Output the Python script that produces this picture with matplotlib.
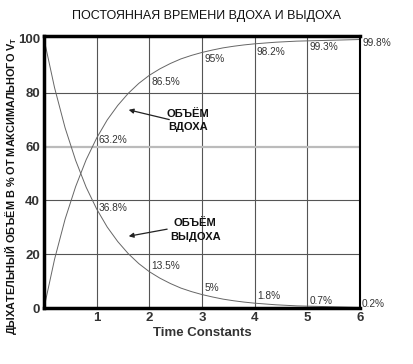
import matplotlib
matplotlib.use("Agg")
import matplotlib.pyplot as plt

plt.rcParams['font.family'] = ['Liberation Sans', 'DejaVu Sans']

# time constants and curve values
t = [0.0, 0.2, 0.4, 0.6, 0.8, 1.0, 1.2, 1.4, 1.6, 1.8, 2.0, 2.2, 2.4, 2.6, 2.8, 3.0,
     3.2, 3.4, 3.6, 3.8, 4.0, 4.2, 4.4, 4.6, 4.8, 5.0, 5.2, 5.4, 5.6, 5.8, 6.0]
exhale = [100.0, 81.9, 67.0, 54.9, 44.9, 36.8, 30.1, 24.7, 20.2, 16.5, 13.5, 11.1, 9.1, 7.4,
          6.1, 5.0, 4.1, 3.3, 2.7, 2.2, 1.8, 1.5, 1.2, 1.0, 0.8, 0.7, 0.6, 0.5, 0.4, 0.3, 0.2]
inhale = [0.0, 18.1, 33.0, 45.1, 55.1, 63.2, 69.9, 75.3, 79.8, 83.5, 86.5, 88.9, 90.9, 92.6,
          93.9, 95.0, 95.9, 96.7, 97.3, 97.8, 98.2, 98.5, 98.8, 99.0, 99.2, 99.3, 99.4, 99.5,
          99.6, 99.7, 99.8]

# percent labels at each time constant
label_t = [1, 2, 3, 4, 5, 6]
inhale_labels = ['63.2%', '86.5%', '95%', '98.2%', '99.3%', '99.8%']
exhale_labels = ['36.8%', '13.5%', '5%', '1.8%', '0.7%', '0.2%']
inhale_label_y = [62.3, 84, 92.5, 95, 97, 98.5]
exhale_label_y = [37.3, 15.7, 7.5, 4.5, 2.6, 1.5]

fig = plt.figure(figsize=(4.14, 3.64), dpi=100)
ax = fig.add_axes([0.1063, 0.1538, 0.7633, 0.7465])

ax.set_xlim(0, 6)
ax.set_ylim(0, 101)

# grid
for x in [1, 2, 3, 4, 5]:
    ax.axvline(x, color='#555555', lw=0.8, zorder=1)
for y in [20, 40, 80]:
    ax.axhline(y, color='#555555', lw=0.8, zorder=1)
ax.axhline(60, color='#bbbbbb', lw=1.6, zorder=1)

ax.plot(t, exhale, color='#666666', lw=0.7, zorder=2)
ax.plot(t, inhale, color='#666666', lw=0.7, zorder=2)

for i in range(len(label_t)):
    ax.text(label_t[i] + 0.04, inhale_label_y[i], inhale_labels[i], fontsize=7.3, color='#333333',
            ha='left', va='center', clip_on=False)
    ax.text(label_t[i] + 0.04, exhale_label_y[i], exhale_labels[i], fontsize=7.3, color='#333333',
            ha='left', va='center', clip_on=False)

ax.annotate('', xy=(1.556, 73.9), xytext=(2.43, 69.8),
            arrowprops=dict(arrowstyle='-|>', color='#222222', lw=0.9, mutation_scale=7))
ax.text(2.73, 69.6, 'ОБЪЁМ\nВДОХА', fontsize=8, fontweight='bold', color='#111111',
        ha='center', va='center', linespacing=1.4)
ax.annotate('', xy=(1.556, 26.5), xytext=(2.39, 29.5),
            arrowprops=dict(arrowstyle='-|>', color='#222222', lw=0.9, mutation_scale=7))
ax.text(2.87, 29, 'ОБЪЁМ\nВЫДОХА', fontsize=8, fontweight='bold', color='#111111',
        ha='center', va='center', linespacing=1.4)

ax.set_xticks([1, 2, 3, 4, 5, 6])
ax.set_yticks([0, 20, 40, 60, 80, 100])
ax.tick_params(length=0, labelsize=9.5, labelcolor='#333333', pad=3)
for lbl in ax.get_xticklabels() + ax.get_yticklabels():
    lbl.set_fontweight('bold')

for side in ['left', 'bottom', 'top']:
    ax.spines[side].set_linewidth(2.5)
ax.spines['right'].set_linewidth(1.5)
for s in ax.spines.values():
    s.set_color('black')
    s.set_zorder(5)

ax.set_xlabel('Time Constants', fontsize=9.5, fontweight='bold', color='#333333', labelpad=2)
fig.text(0.026, 0.49, 'ДЫХАТЕЛЬНЫЙ ОБЪЁМ В % ОТ МАКСИМАЛЬНОГО $\\mathregular{V_T}$', fontsize=7.8,
         fontweight='bold', color='#111111', rotation=90, ha='center', va='center')
fig.text(0.5, 0.956, 'ПОСТОЯННАЯ ВРЕМЕНИ ВДОХА И ВЫДОХА', fontsize=9, ha='center',
         va='center', color='#111111')

fig.savefig('out.png', dpi=100)
